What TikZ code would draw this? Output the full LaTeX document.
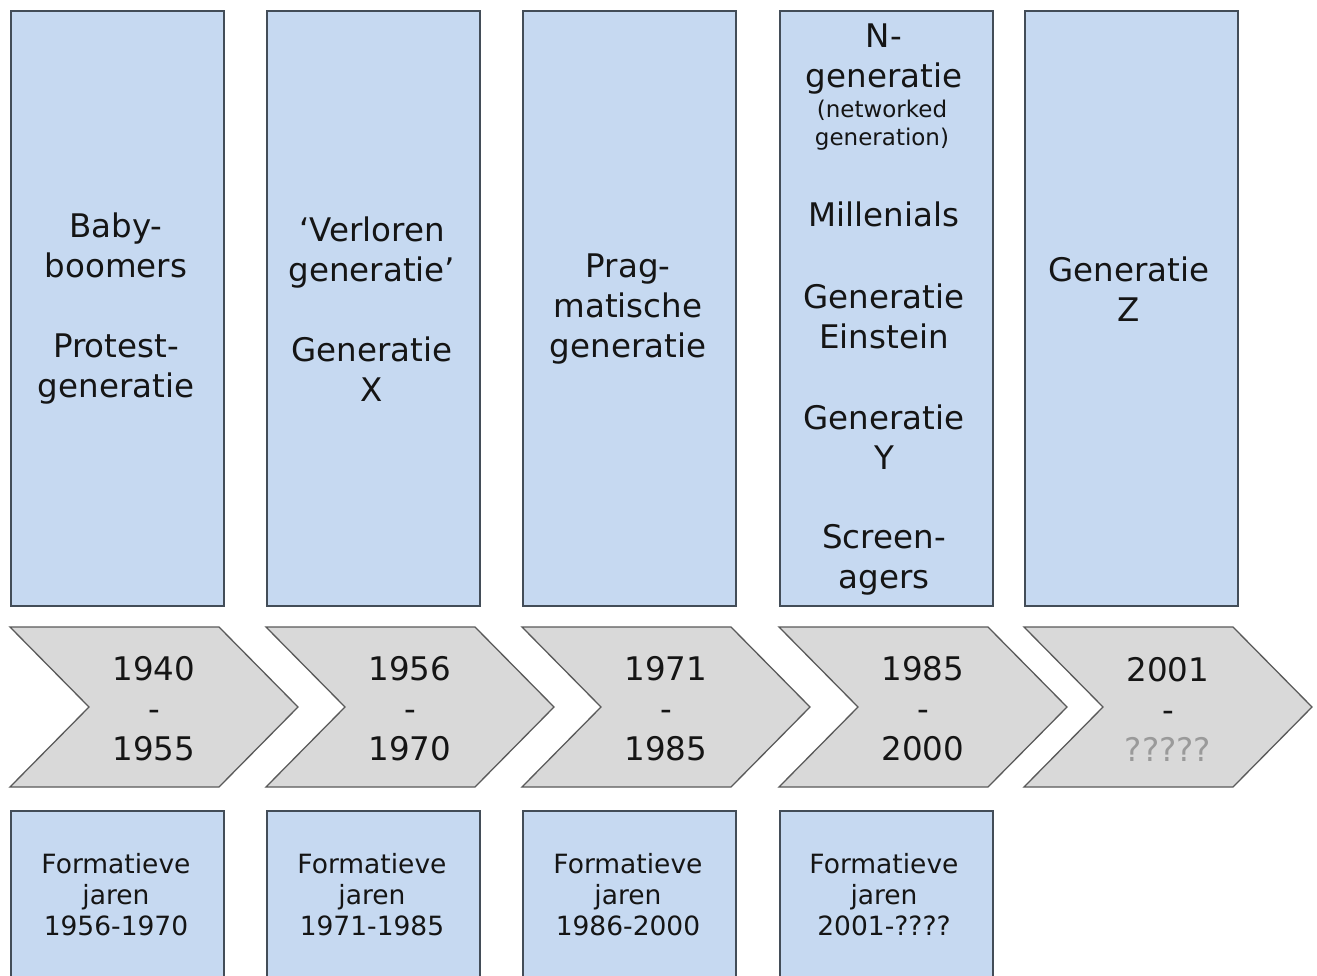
\documentclass[tikz,border=0pt]{standalone}
\usepackage{fontspec}
\setmainfont{DejaVu Sans}
\definecolor{boxfill}{HTML}{C6D9F1}
\definecolor{boxline}{HTML}{434D58}
\definecolor{chevfill}{HTML}{D9D9D9}
\definecolor{chevline}{HTML}{5A5A5A}
\definecolor{txt}{HTML}{151515}
\definecolor{qgray}{HTML}{9A9A9A}
\begin{document}
\begin{tikzpicture}[x=1pt,y=-1pt,
  gbox/.style={draw=boxline, fill=boxfill, line width=1.8pt, anchor=north west, minimum width=213pt, inner sep=0pt},
  topbox/.style={gbox, minimum height=595pt},
  botbox/.style={gbox, minimum height=180pt},
  chev/.style={draw=chevline, fill=chevfill, line width=1.3pt, line join=miter},
  big/.style={font=\fontsize{32.5}{40}\selectfont, align=center, text=txt, inner sep=0pt},
  small/.style={font=\fontsize{23}{28}\selectfont, align=center, text=txt, inner sep=0pt},
  mid/.style={font=\fontsize{26.5}{31}\selectfont, align=center, text=txt, inner sep=0pt}]
\useasboundingbox[fill=white] (0,0) rectangle (1317,976);

% top boxes
\node[topbox] (t1) at (10,10) {};
\node[topbox] (t2) at (266,10) {};
\node[topbox] (t3) at (522,10) {};
\node[topbox] (t4) at (779,10) {};
\node[topbox] (t5) at (1024,10) {};

\node[big] (t1a) at (116,309) {Baby-\\boomers\\[40pt]Protest-\\generatie};
\node[big] (t2a) at (372,309) {‘Verloren\\generatie’\\[40pt]Generatie\\X};
\node[big] (t3a) at (628,309) {Prag-\\matische\\generatie};
\node[big] (t4a) at (884,59) {N-\\generatie};
\node[small] (t4b) at (882,125) {(networked\\generation)};
\node[big] (t4c) at (884,214) {Millenials};
\node[big] (t4d) at (884,316) {Generatie\\Einstein};
\node[big] (t4e) at (884,437) {Generatie\\Y};
\node[big] (t4f) at (884,560) {Screen-\\agers};
\node[big] (t5a) at (1129,289) {Generatie\\Z};

% chevrons
\foreach \L/\a/\b [count=\i] in {10/1940/1955, 266/1956/1970, 522/1971/1985, 779/1985/2000, 1024/2001/{\textcolor{qgray}{?????}}}{
  \draw[chev] (\L,627) -- ++(209,0) -- ++(79,80) -- ++(-79,80) -- ++(-209,0) -- ++(79,-80) -- cycle;
  \node[big] (c\i) at (\L+144,709) {\a\\-\\\b};
}

% bottom boxes
\node[botbox] (b1) at (10,810) {};
\node[botbox] (b2) at (266,810) {};
\node[botbox] (b3) at (522,810) {};
\node[botbox] (b4) at (779,810) {};
\node[mid] (b1a) at (116,895) {Formatieve\\jaren\\1956-1970};
\node[mid] (b2a) at (372,895) {Formatieve\\jaren\\1971-1985};
\node[mid] (b3a) at (628,895) {Formatieve\\jaren\\1986-2000};
\node[mid] (b4a) at (884,895) {Formatieve\\jaren\\2001-????};
\end{tikzpicture}
\end{document}
